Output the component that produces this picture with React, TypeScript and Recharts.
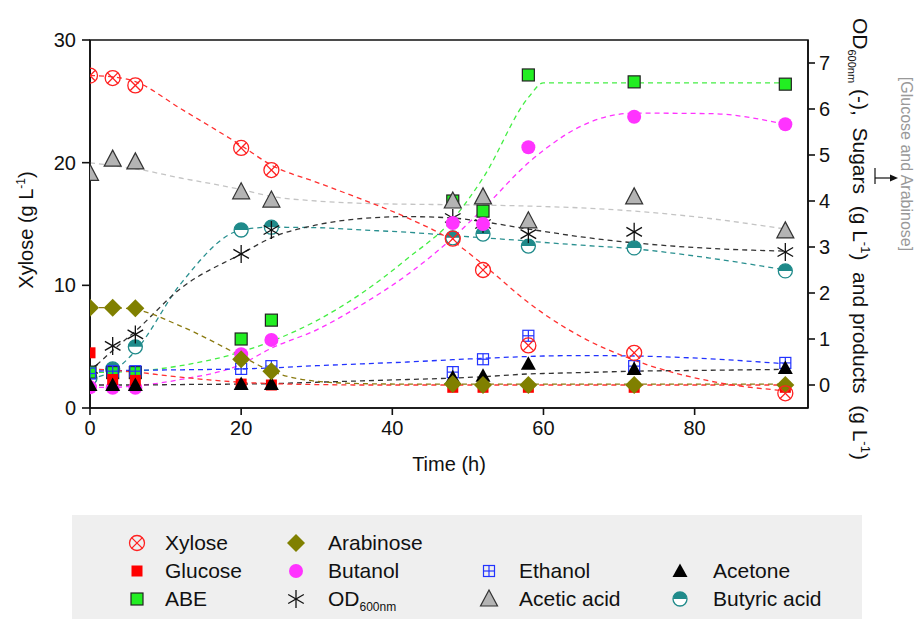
import React from "react";
import { ComposedChart, Line, Scatter, XAxis, YAxis, ReferenceArea, Legend } from "recharts";

// sampling times (h)
const sampleTimes = [0, 3, 6, 20, 24, 48, 52, 58, 72, 92];

// measured points; xylose on the left axis, everything else on the right axis
const xylose = [27.1, 26.9, 26.3, 21.2, 19.4, 13.8, 11.25, 5.1, 4.5, 1.2];
const glucose = [0.7, 0.12, 0.1, 0.02, 0.0, -0.05, -0.05, -0.05, -0.05, -0.05];
const arabinose = [1.68, 1.68, 1.67, 0.56, 0.3, 0.02, 0.0, 0.0, 0.0, 0.0];
const abe = [0.28, 0.27, 0.27, 1.0, 1.41, 4.0, 3.78, 6.74, 6.59, 6.54];
const butanol = [-0.05, -0.06, -0.06, 0.67, 0.98, 3.52, 3.5, 5.17, 5.83, 5.67];
const od600 = [0.35, 0.85, 1.1, 2.85, 3.37, 3.63, 3.5, 3.28, 3.33, 2.89];
const ethanol = [0.25, 0.3, 0.3, 0.35, 0.41, 0.28, 0.56, 1.07, 0.41, 0.48];
const acetone = [0.0, 0.0, 0.0, 0.02, 0.02, 0.17, 0.2, 0.46, 0.35, 0.37];
const aceticAcid = [4.6, 4.91, 4.85, 4.2, 4.02, 4.0, 4.09, 3.57, 4.09, 3.35];
const butyricAcid = [0.15, 0.35, 0.83, 3.37, 3.43, 3.2, 3.28, 3.02, 2.98, 2.48];

// fitted (dashed) curves
const fitTimes = [0, 3, 6, 12, 20, 24, 30, 36, 42, 48, 52, 58, 60, 65, 72, 82, 92];
const xyloseFit = [27.1, 27.0, 26.6, 24.4, 21.4, 19.8, 18.4, 17.0, 15.5, 13.6, 11.7, 8.6, 7.7, 5.8, 3.9, 2.2, 1.4];
const glucoseFit = [0.35, 0.32, 0.28, 0.17, 0.06, 0.03, 0.01, 0, 0, 0, 0, 0, 0, 0, 0, 0, 0];
const arabinoseFit = [1.68, 1.68, 1.64, 1.28, 0.63, 0.3, 0.08, 0.03, 0.02, 0.02, 0.02, 0.02, 0.02, 0.02, 0.02, 0.02, 0.02];
const abeFit = [0.27, 0.28, 0.3, 0.42, 0.72, 0.95, 1.4, 2.0, 2.75, 3.6, 4.5, 6.25, 6.57, 6.57, 6.57, 6.57, 6.57];
const butanolFit = [-0.05, -0.05, -0.02, 0.12, 0.45, 0.8, 1.2, 1.75, 2.4, 3.2, 3.83, 4.83, 5.1, 5.63, 5.91, 5.9, 5.67];
const od600Fit = [0.3, 0.75, 1.17, 2.1, 2.85, 3.2, 3.48, 3.62, 3.66, 3.63, 3.55, 3.39, 3.34, 3.22, 3.09, 2.97, 2.91];
const ethanolFit = [0.3, 0.31, 0.32, 0.33, 0.35, 0.37, 0.42, 0.46, 0.5, 0.55, 0.58, 0.62, 0.63, 0.64, 0.63, 0.57, 0.46];
const acetoneFit = [0, 0, 0, 0.01, 0.02, 0.03, 0.06, 0.09, 0.12, 0.15, 0.18, 0.24, 0.25, 0.27, 0.3, 0.32, 0.34];
const aceticAcidFit = [4.83, 4.77, 4.7, 4.5, 4.25, 4.1, 4.0, 3.95, 3.93, 3.92, 3.91, 3.89, 3.88, 3.85, 3.78, 3.62, 3.39];
const butyricAcidFit = [0.15, 0.3, 0.74, 2.2, 3.37, 3.43, 3.42, 3.37, 3.32, 3.25, 3.2, 3.13, 3.1, 3.04, 2.96, 2.76, 2.5];

const xTicks = [0, 20, 40, 60, 80];
const leftTicks = [0, 10, 20, 30];
const rightTicks = [0, 1, 2, 3, 4, 5, 6, 7];

const FONT = "'Liberation Sans', Arial, sans-serif";

const pts = (vals: number[]) => vals.map((v, i) => ({ t: sampleTimes[i], v }));
const fit = (vals: number[]) => vals.map((v, i) => ({ t: fitTimes[i], v }));

type Kind =
  | "xylose" | "glucose" | "abe" | "arabinose" | "butanol"
  | "od" | "ethanol" | "acetone" | "acetic" | "butyric";

function Marker({ kind, cx, cy }: { kind: Kind; cx: number; cy: number }) {
  switch (kind) {
    case "xylose": {
      const r = 7.5, d = r * 0.72;
      return (
        <g stroke="#ff2020" strokeWidth={1.3} fill="none">
          <circle cx={cx} cy={cy} r={r} />
          <line x1={cx - d} y1={cy - d} x2={cx + d} y2={cy + d} />
          <line x1={cx - d} y1={cy + d} x2={cx + d} y2={cy - d} />
        </g>
      );
    }
    case "glucose":
      return <rect x={cx - 5.5} y={cy - 5.5} width={11} height={11} fill="#ff0000" />;
    case "abe":
      return <rect x={cx - 6} y={cy - 6} width={12} height={12} fill="#22ee22" stroke="#222" strokeWidth={1.2} />;
    case "arabinose":
      return <polygon points={`${cx},${cy - 9} ${cx + 9},${cy} ${cx},${cy + 9} ${cx - 9},${cy}`} fill="#808000" />;
    case "butanol":
      return <circle cx={cx} cy={cy} r={7} fill="#ff33ff" />;
    case "od": {
      const r = 9;
      const a = r * Math.cos(Math.PI / 6), b = r * Math.sin(Math.PI / 6);
      return (
        <g stroke="#111" strokeWidth={1.3}>
          <line x1={cx} y1={cy - r} x2={cx} y2={cy + r} />
          <line x1={cx - a} y1={cy - b} x2={cx + a} y2={cy + b} />
          <line x1={cx - a} y1={cy + b} x2={cx + a} y2={cy - b} />
        </g>
      );
    }
    case "ethanol":
      return (
        <g stroke="#2233ff" strokeWidth={1.2} fill="none">
          <rect x={cx - 5.5} y={cy - 5.5} width={11} height={11} />
          <line x1={cx} y1={cy - 5.5} x2={cx} y2={cy + 5.5} />
          <line x1={cx - 5.5} y1={cy} x2={cx + 5.5} y2={cy} />
        </g>
      );
    case "acetone":
      return <polygon points={`${cx},${cy - 7.5} ${cx + 7.5},${cy + 6} ${cx - 7.5},${cy + 6}`} fill="#000" />;
    case "acetic":
      return (
        <polygon
          points={`${cx},${cy - 9} ${cx + 8.5},${cy + 7} ${cx - 8.5},${cy + 7}`}
          fill="#b4b4b4"
          stroke="#333"
          strokeWidth={1.2}
        />
      );
    case "butyric":
      return (
        <g>
          <circle cx={cx} cy={cy} r={7} fill="#fff" stroke="#1f8a8a" strokeWidth={1.3} />
          <path d={`M${cx - 7},${cy} A7,7 0 0 1 ${cx + 7},${cy} Z`} fill="#1f8a8a" />
        </g>
      );
  }
  return null;
}

const shape = (kind: Kind) => (p: any) => <Marker kind={kind} cx={p.cx} cy={p.cy} />;

function LeftLabel() {
  return (
    <text transform="translate(33,230) rotate(-90)" textAnchor="middle" fontSize={20} fontFamily={FONT} fill="#111">
      <tspan>Xylose (g L</tspan>
      <tspan fontSize={12} dy={-8}>-1</tspan>
      <tspan dy={8}>)</tspan>
    </text>
  );
}

function BottomLabel() {
  return (
    <text x={449} y={471} textAnchor="middle" fontSize={20} fontFamily={FONT} fill="#111">
      Time (h)
    </text>
  );
}

function RightLabel() {
  return (
    <g fontFamily={FONT}>
      <text transform="translate(853,18) rotate(90)" fontSize={21} fill="#111" style={{ whiteSpace: "pre" }}>
        <tspan>OD</tspan>
        <tspan fontSize={11} dy={5}>600nm</tspan>
        <tspan dy={-5}>{" (-),  Sugars  (g L"}</tspan>
        <tspan fontSize={13} dy={-8}>-1</tspan>
        <tspan dy={8}>{")  and products  (g L"}</tspan>
        <tspan fontSize={13} dy={-8}>-1</tspan>
        <tspan dy={8}>)</tspan>
      </text>
      <text transform="translate(901,164) rotate(90)" textAnchor="middle" fontSize={16} fill="#999">
        [Glucose and Arabinose]
      </text>
      <line x1={875} y1={168} x2={875} y2={184} stroke="#111" strokeWidth={1.2} />
      <line x1={875} y1={178} x2={891} y2={178} stroke="#111" strokeWidth={1.2} />
      <polygon points="898,178 890,174.5 890,181.5" fill="#111" />
    </g>
  );
}

const seriesNames: Record<Kind, string> = {
  xylose: "Xylose",
  glucose: "Glucose",
  abe: "ABE",
  arabinose: "Arabinose",
  butanol: "Butanol",
  od: "OD",
  ethanol: "Ethanol",
  acetone: "Acetone",
  acetic: "Acetic acid",
  butyric: "Butyric acid",
};

const legendColumns: (Kind | null)[][] = [
  ["xylose", "glucose", "abe"],
  ["arabinose", "butanol", "od"],
  [null, "ethanol", "acetic"],
  [null, "acetone", "butyric"],
];

function LegendBox() {
  const symX = [65, 224, 417, 608];
  const textX = [93, 256, 447, 641];
  const rowY = [28, 56, 84];
  return (
    <div style={{ position: "relative", width: 790, height: 104, background: "#efefef", fontFamily: FONT }}>
      {legendColumns.map((col, ci) =>
        col.map((kind, ri) =>
          kind ? (
            <React.Fragment key={kind}>
              <svg
                width={22}
                height={22}
                style={{ position: "absolute", left: symX[ci] - 11, top: rowY[ri] - 11 }}
              >
                <Marker kind={kind} cx={11} cy={11} />
              </svg>
              <div
                style={{
                  position: "absolute",
                  left: textX[ci],
                  top: rowY[ri] - 12,
                  fontSize: 21,
                  lineHeight: "24px",
                  color: "#111",
                  whiteSpace: "nowrap",
                }}
              >
                {seriesNames[kind]}
                {kind === "od" ? <sub style={{ fontSize: 12 }}>600nm</sub> : null}
              </div>
            </React.Fragment>
          ) : null
        )
      )}
    </div>
  );
}

const axisStroke = { stroke: "#111", strokeWidth: 1.6 };
const tickStyle = { fill: "#111", fontSize: 20, fontFamily: FONT };
const dash = "5 4";

export default function App() {
  return (
    <div style={{ position: "absolute", left: 0, top: 0, width: 917, height: 619, background: "#fff" }}>
      <ComposedChart width={917} height={619} margin={{ top: 40, right: 69, bottom: 181, left: 40 }}>
        <XAxis
          type="number"
          dataKey="t"
          domain={[0, 95]}
          ticks={xTicks}
          allowDataOverflow
          axisLine={axisStroke}
          tickLine={axisStroke}
          tickSize={7}
          tickMargin={6}
          tick={tickStyle}
          height={30}
          label={<BottomLabel />}
        />
        <YAxis
          yAxisId="left"
          orientation="left"
          type="number"
          domain={[0, 30]}
          ticks={leftTicks}
          allowDataOverflow
          axisLine={axisStroke}
          tickLine={axisStroke}
          tickSize={8}
          tickMargin={6}
          tick={tickStyle}
          width={50}
          label={<LeftLabel />}
        />
        <YAxis
          yAxisId="right"
          orientation="right"
          type="number"
          domain={[-0.5, 7.5]}
          ticks={rightTicks}
          allowDataOverflow
          axisLine={axisStroke}
          tickLine={axisStroke}
          tickSize={7}
          tickMargin={4}
          tick={tickStyle}
          width={40}
          label={<RightLabel />}
        />
        <ReferenceArea yAxisId="left" x1={0} x2={95} y1={0} y2={30} fill="none" stroke="#111" strokeWidth={1.6} />

        <Line yAxisId="right" data={fit(aceticAcidFit)} dataKey="v" type="monotone" stroke="#c4c4c4" strokeWidth={1.3} strokeDasharray={dash} dot={false} isAnimationActive={false} />
        <Line yAxisId="right" data={fit(butyricAcidFit)} dataKey="v" type="monotone" stroke="#2a9090" strokeWidth={1.3} strokeDasharray={dash} dot={false} isAnimationActive={false} />
        <Line yAxisId="right" data={fit(od600Fit)} dataKey="v" type="monotone" stroke="#333" strokeWidth={1.3} strokeDasharray={dash} dot={false} isAnimationActive={false} />
        <Line yAxisId="right" data={fit(abeFit)} dataKey="v" type="monotone" stroke="#44ee44" strokeWidth={1.3} strokeDasharray={dash} dot={false} isAnimationActive={false} />
        <Line yAxisId="right" data={fit(butanolFit)} dataKey="v" type="monotone" stroke="#ff33ff" strokeWidth={1.3} strokeDasharray={dash} dot={false} isAnimationActive={false} />
        <Line yAxisId="right" data={fit(ethanolFit)} dataKey="v" type="monotone" stroke="#2233ff" strokeWidth={1.3} strokeDasharray={dash} dot={false} isAnimationActive={false} />
        <Line yAxisId="right" data={fit(acetoneFit)} dataKey="v" type="monotone" stroke="#333" strokeWidth={1.3} strokeDasharray={dash} dot={false} isAnimationActive={false} />
        <Line yAxisId="right" data={fit(glucoseFit)} dataKey="v" type="monotone" stroke="#ff3030" strokeWidth={1.3} strokeDasharray={dash} dot={false} isAnimationActive={false} />
        <Line yAxisId="right" data={fit(arabinoseFit)} dataKey="v" type="monotone" stroke="#8a7a10" strokeWidth={1.3} strokeDasharray={dash} dot={false} isAnimationActive={false} />
        <Line yAxisId="left" data={fit(xyloseFit)} dataKey="v" type="monotone" stroke="#ff3030" strokeWidth={1.3} strokeDasharray={dash} dot={false} isAnimationActive={false} />

        <Scatter yAxisId="right" data={pts(butyricAcid)} dataKey="v" shape={shape("butyric")} isAnimationActive={false} />
        <Scatter yAxisId="right" data={pts(od600)} dataKey="v" shape={shape("od")} isAnimationActive={false} />
        <Scatter yAxisId="right" data={pts(abe)} dataKey="v" shape={shape("abe")} isAnimationActive={false} />
        <Scatter yAxisId="right" data={pts(aceticAcid)} dataKey="v" shape={shape("acetic")} isAnimationActive={false} />
        <Scatter yAxisId="right" data={pts(butanol)} dataKey="v" shape={shape("butanol")} isAnimationActive={false} />
        <Scatter yAxisId="right" data={pts(ethanol)} dataKey="v" shape={shape("ethanol")} isAnimationActive={false} />
        <Scatter yAxisId="right" data={pts(glucose)} dataKey="v" shape={shape("glucose")} isAnimationActive={false} />
        <Scatter yAxisId="right" data={pts(acetone)} dataKey="v" shape={shape("acetone")} isAnimationActive={false} />
        <Scatter yAxisId="right" data={pts(arabinose)} dataKey="v" shape={shape("arabinose")} isAnimationActive={false} />
        <Scatter yAxisId="left" data={pts(xylose)} dataKey="v" shape={shape("xylose")} isAnimationActive={false} />

        <Legend
          layout="horizontal"
          verticalAlign="middle"
          align="center"
          content={() => <LegendBox />}
          wrapperStyle={{ position: "absolute", left: 72, top: 515, width: 790, height: 104 }}
        />
      </ComposedChart>
    </div>
  );
}
